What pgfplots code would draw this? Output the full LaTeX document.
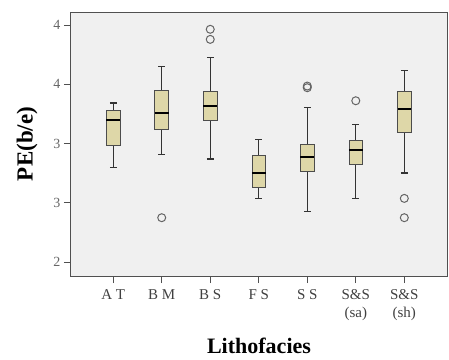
\documentclass[border=0pt]{standalone}
\usepackage{pgfplots}
\pgfplotsset{compat=1.18}
\usepgfplotslibrary{statistics}
\usetikzlibrary{calc}
\usepackage{fontspec}
\setmainfont{Liberation Serif}
\definecolor{boxfill}{RGB}{222,215,168}
\definecolor{bgc}{RGB}{240,240,240}
\definecolor{axc}{RGB}{80,80,80}
\definecolor{outc}{RGB}{100,100,100}
\begin{document}
\begin{tikzpicture}
\begin{axis}[
  scale only axis,
  width=376pt, height=264pt,
  xmin=-0.87, xmax=6.88,
  ymin=1.882, ymax=4.11,
  axis background/.style={fill=bgc},
  axis line style={axc, line width=1pt},
  xtick={0,1,2,3,4,5,6},
  xticklabels={A T, B M, B S, F S, S S, {S\&S\\(sa)}, {S\&S\\(sh)}},
  ytick={2,2.5,3,3.5,4},
  yticklabels={2,3,3,4,4},
  tick align=outside,
  major tick length=7pt,
  tick style={axc, line width=1pt},
  xtick pos=bottom, ytick pos=left,
  x tick label style={font=\fontsize{15}{18}\selectfont, text=black!75, align=center, anchor=north, yshift=-3pt},
  y tick label style={font=\fontsize{14}{16}\selectfont, text=black!60},
  xlabel={\textbf{Lithofacies}},
  ylabel={\textbf{PE(b/e)}},
  every axis x label/.style={at={(axis description cs:0.5,-0.264)}, anchor=center, font=\fontsize{22}{24}\selectfont},
  every axis y label/.style={at={(axis description cs:-0.117,0.5)}, rotate=90, anchor=center, font=\fontsize{23}{24}\selectfont},
  boxplot/draw direction=y,
  boxplot/box extend=0.28,
  boxplot/whisker extend=0.14,
  boxplot/every box/.style={fill=boxfill, draw=black!70, line width=0.9pt},
  boxplot/every whisker/.style={draw=black!80, line width=1.4pt},
  boxplot/every median/.style={draw=black, line width=2pt},
  every axis plot/.append style={mark=o, mark size=4pt, mark options={draw=outc, line width=1pt}},
  clip=false,
]
\addplot[boxplot prepared={draw position=0, lower whisker=2.796, lower quartile=2.985, median=3.198, upper quartile=3.280, upper whisker=3.342}] coordinates {};
\addplot[boxplot prepared={draw position=1, lower whisker=2.909, lower quartile=3.117, median=3.257, upper quartile=3.449, upper whisker=3.648}] table[row sep=\\, y index=0] {v\\ 2.374\\};
\addplot[boxplot prepared={draw position=2, lower whisker=2.869, lower quartile=3.193, median=3.316, upper quartile=3.437, upper whisker=3.724}] table[row sep=\\, y index=0] {v\\ 3.964\\ 3.879\\};
\addplot[boxplot prepared={draw position=3, lower whisker=2.537, lower quartile=2.627, median=2.754, upper quartile=2.903, upper whisker=3.035}] coordinates {};
\addplot[boxplot prepared={draw position=4, lower whisker=2.428, lower quartile=2.762, median=2.889, upper quartile=2.996, upper whisker=3.305}] table[row sep=\\, y index=0] {v\\ 3.485\\ 3.471\\};
\addplot[boxplot prepared={draw position=5, lower whisker=2.537, lower quartile=2.824, median=2.948, upper quartile=3.030, upper whisker=3.159}] table[row sep=\\, y index=0] {v\\ 3.361\\};
\addplot[boxplot prepared={draw position=6, lower whisker=2.751, lower quartile=3.097, median=3.294, upper quartile=3.437, upper whisker=3.617}] table[row sep=\\, y index=0] {v\\ 2.537\\ 2.374\\};
\end{axis}
\useasboundingbox ($(current axis.south west)+(-71pt,-84pt)$) rectangle ($(current axis.north east)+(2pt,12pt)$);
\end{tikzpicture}
\end{document}
